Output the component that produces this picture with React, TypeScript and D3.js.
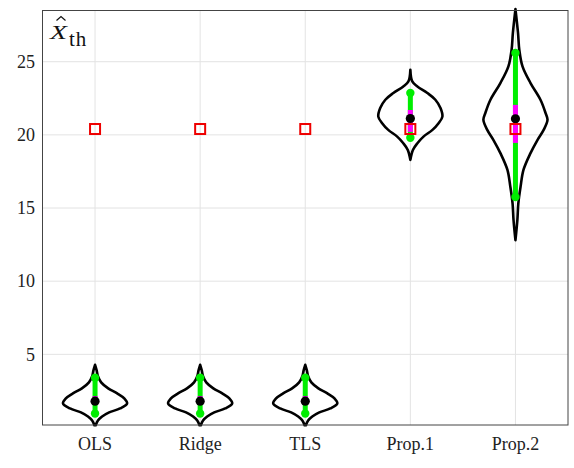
import React from 'react';
import { scaleBand, scaleLinear, area, curveCatmullRom } from 'd3';

const categories = ['OLS', 'Ridge', 'TLS', 'Prop.1', 'Prop.2'];
const yTicks = [5, 10, 15, 20, 25];
const trueValue = 20.4;

// whiskers (green), inter-quartile (magenta), median (black)
const whiskerLow = [0.95, 0.95, 0.95, 19.8, 15.75];
const whiskerHigh = [3.4, 3.4, 3.4, 22.86, 25.6];
const q1 = [1.65, 1.65, 1.65, 20.2, 19.45];
const q3 = [2.15, 2.15, 2.15, 21.7, 22.05];
const medians = [1.8, 1.8, 1.8, 21.12, 21.1];

// violin outlines: value -> relative half width
const lsValues = [4.28, 3.9, 3.5, 3.08, 2.67, 2.33, 1.99, 1.64, 1.3, 1.03, 0.75, 0.48, 0.15];
const lsWidths = [0, 0.05, 0.09, 0.19, 0.41, 0.69, 0.91, 1, 0.78, 0.44, 0.22, 0.09, 0.02];
const prop1Values = [24.45, 23.65, 23.31, 22.86, 22.4, 21.83, 21.25, 20.8, 20.34, 19.88, 19.43, 18.97, 18.29];
const prop1Widths = [0, 0.06, 0.22, 0.53, 0.78, 0.94, 1, 0.88, 0.69, 0.41, 0.22, 0.08, 0];
const prop2Values = [28.6, 26.97, 25.82, 24.68, 23.54, 22.4, 21.49, 21.03, 20.34, 19.66, 18.75, 17.6, 16.46, 15.32, 14.18, 12.8];
const prop2Widths = [0, 0.08, 0.12, 0.22, 0.47, 0.78, 0.94, 1, 0.88, 0.69, 0.47, 0.25, 0.16, 0.09, 0.06, 0];

const violins = [
  [lsValues, lsWidths],
  [lsValues, lsWidths],
  [lsValues, lsWidths],
  [prop1Values, prop1Widths],
  [prop2Values, prop2Widths],
];

const W = 574;
const H = 468;
const left = 42.5, right = 568, top = 10.5, bottom = 425;
const font = '"Liberation Serif", "DejaVu Serif", serif';

export default function App() {
  const x = scaleBand<string>().domain(categories).range([left, right]).padding(0);
  const y = scaleLinear().domain([0.17, 28.5]).range([bottom, top]);
  const half = x.bandwidth() * 0.305;
  const cx = (c: string) => (x(c) as number) + x.bandwidth() / 2;

  return (
    <svg width={W} height={H} style={{ position: 'absolute', left: 0, top: 0, background: '#fff' }}>
      {yTicks.map(t => (
        <line key={'h' + t} x1={left} x2={right} y1={y(t)} y2={y(t)} stroke="#e3e3e3" strokeWidth={1} />
      ))}
      {categories.map(c => (
        <line key={'v' + c} x1={cx(c)} x2={cx(c)} y1={top} y2={bottom} stroke="#e3e3e3" strokeWidth={1} />
      ))}

      {categories.map((c, i) => {
        const [vals, ws] = violins[i];
        const pts = vals.map((v, k) => ({ v, w: ws[k] }));
        const path = area<{ v: number; w: number }>()
          .y(d => y(d.v))
          .x0(d => cx(c) - d.w * half)
          .x1(d => cx(c) + d.w * half)
          .curve(curveCatmullRom.alpha(0.5))(pts);
        return <path key={'vio' + c} d={path || ''} fill="none" stroke="#000" strokeWidth={2.6} strokeLinejoin="round" />;
      })}

      {categories.map((c, i) => (
        <g key={'st' + c}>
          <line x1={cx(c)} x2={cx(c)} y1={y(whiskerLow[i])} y2={y(whiskerHigh[i])} stroke="#00ee00" strokeWidth={5} />
          <line x1={cx(c)} x2={cx(c)} y1={y(q1[i])} y2={y(q3[i])} stroke="#ff00ff" strokeWidth={5} />
          <circle cx={cx(c)} cy={y(whiskerLow[i])} r={4.2} fill="#00ee00" />
          <circle cx={cx(c)} cy={y(whiskerHigh[i])} r={4.2} fill="#00ee00" />
          <circle cx={cx(c)} cy={y(medians[i])} r={4.6} fill="#000" />
          <rect x={cx(c) - 5} y={y(trueValue) - 5} width={10} height={10} fill="none" stroke="#ee0000" strokeWidth={2} />
        </g>
      ))}

      <rect x={left} y={top} width={right - left} height={bottom - top} fill="none" stroke="#444" strokeWidth={1} />

      {yTicks.map(t => (
        <text key={'yt' + t} x={35} y={y(t)} dy="0.35em" textAnchor="end" fontFamily={font} fontSize={18} fill="#222">
          {t}
        </text>
      ))}
      {categories.map(c => (
        <text key={'xt' + c} x={cx(c)} y={450} textAnchor="middle" fontFamily={font} fontSize={18} fill="#222">
          {c}
        </text>
      ))}

      <text x={50} y={39} fontFamily={font} fontSize={19} fontStyle="italic" textLength={17} lengthAdjust="spacingAndGlyphs" fill="#111">X</text>
      <path d="M56.5,20.5 L61,16.5 L65.5,20.5" fill="none" stroke="#111" strokeWidth={1.2} />
      <text x={69} y={46} fontFamily={font} fontSize={21} letterSpacing={0.8} fill="#111">th</text>
    </svg>
  );
}
